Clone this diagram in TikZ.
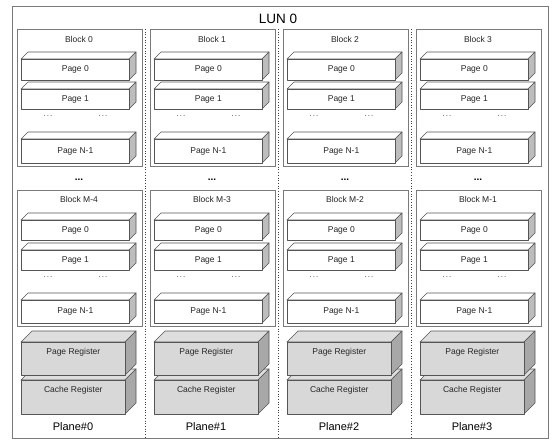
\documentclass[tikz,border=0pt]{standalone}
\usepackage{fontspec}
\setmainfont{Liberation Sans}
\definecolor{edge}{HTML}{555555}
\definecolor{blk}{HTML}{7A7A7A}
\definecolor{pside}{HTML}{BDBDBD}
\definecolor{rfront}{HTML}{D8D8D8}
\definecolor{rtop}{HTML}{DEDEDE}
\definecolor{rside}{HTML}{A8A8A8}
\tikzset{
  blockbox/.style={draw=blk, line width=0.7pt},
  facebox/.style={draw=edge, line width=0.6pt, line join=round},
  small/.style={font=\fontsize{8.5}{10}\selectfont, text=black!85},
  dotlbl/.style={font=\fontsize{8}{9}\selectfont, text=black!75},
  planelbl/.style={font=\fontsize{11}{13}\selectfont},
  sep/.style={draw=black!75, line width=0.7pt, dotted},
}
\newcommand\tdots{.\kern1pt.\kern1pt.}
% #1 name, #2 x1, #3 y1, #4 x2, #5 y2, #6 depth, #7 front, #8 top, #9 side
\newcommand\cubo[9]{%
  \filldraw[facebox, fill=#8] (#2,#3) -- ++(#6,-#6) -- (#4+#6,#3-#6) -- (#4,#3) -- cycle;
  \filldraw[facebox, fill=#9] (#4,#3) -- (#4+#6,#3-#6) -- (#4+#6,#5-#6) -- (#4,#5) -- cycle;
  \node[facebox, fill=#7, anchor=north west, minimum width=#4pt-#2pt, minimum height=#5pt-#3pt, inner sep=0pt] (#1) at (#2,#3) {};
}
\begin{document}
\begin{tikzpicture}[x=1pt,y=-1pt]
\useasboundingbox (0,0) rectangle (560,444);
\fill[white] (0,0) rectangle (560,444);
\node[draw=blk, line width=0.8pt, anchor=north west, minimum width=536pt, minimum height=432pt, inner sep=0pt] (lun) at (12,6) {};
\node[font=\fontsize{13.5}{15}\selectfont] (luntitle) at (278,19) {LUN 0};
\foreach \s in {0,1,2} {
  \pgfmathsetmacro\SX{145.5+133*\s}
  \coordinate (s\s a) at (\SX,29);
  \coordinate (s\s b) at (\SX,438);
  \draw[sep] (s\s a) -- (s\s b);
}
\foreach \c/\bn/\bm in {0/0/M-4,1/1/M-3,2/2/M-2,3/3/M-1} {
  \pgfmathsetmacro\X{17+133*\c}
  \pgfmathsetmacro\Xa{\X+4}
  \pgfmathsetmacro\Xb{\X+112}
  \pgfmathsetmacro\Xc{\X+62}
  \pgfmathsetmacro\Xr{\X+108}
  % top block
  \node[blockbox, anchor=north west, minimum width=125pt, minimum height=137pt, inner sep=0pt] (bt\c) at (\X,29) {};
  \node[small] (btl\c) at (\Xc,39.5) {Block \bn};
  \cubo{pt0\c}{\Xa}{59}{\Xb}{80}{7}{white}{white}{pside}
  \cubo{pt1\c}{\Xa}{89}{\Xb}{109}{7}{white}{white}{pside}
  \cubo{ptn\c}{\Xa}{139}{\Xb}{163}{7}{white}{white}{pside}
  \node[small] at (pt0\c) {Page 0};
  \node[small] at (pt1\c) {Page 1};
  \node[small] at (ptn\c) {Page N-1};
  \node[dotlbl] (dta\c) at (\X+31,116) {\tdots};
  \node[dotlbl] (dtb\c) at (\X+86,116) {\tdots};
  \node[font=\fontsize{10}{10}\selectfont\bfseries] (mid\c) at (\Xc,180) {...};
  % bottom block
  \node[blockbox, anchor=north west, minimum width=125pt, minimum height=136pt, inner sep=0pt] (bb\c) at (\X,190) {};
  \node[small] (bbl\c) at (\Xc,199.5) {Block \bm};
  \cubo{pb0\c}{\Xa}{220}{\Xb}{240}{7}{white}{white}{pside}
  \cubo{pb1\c}{\Xa}{250}{\Xb}{270}{7}{white}{white}{pside}
  \cubo{pbn\c}{\Xa}{300}{\Xb}{323}{7}{white}{white}{pside}
  \node[small] at (pb0\c) {Page 0};
  \node[small] at (pb1\c) {Page 1};
  \node[small] at (pbn\c) {Page N-1};
  \node[dotlbl] (dba\c) at (\X+31,277) {\tdots};
  \node[dotlbl] (dbb\c) at (\X+86,277) {\tdots};
  % registers
  \cubo{cr\c}{\Xa}{380}{\Xr}{414}{11}{rfront}{rtop}{rside}
  \cubo{pr\c}{\Xa}{342}{\Xr}{375}{11}{rfront}{rtop}{rside}
  \node[small] at ([yshift=7pt]pr\c) {Page Register};
  \node[small] at ([yshift=7pt]cr\c) {Cache Register};
  \node[planelbl] (pl\c) at (\X+56,427) {Plane\#\c};
}
\end{tikzpicture}
\end{document}
